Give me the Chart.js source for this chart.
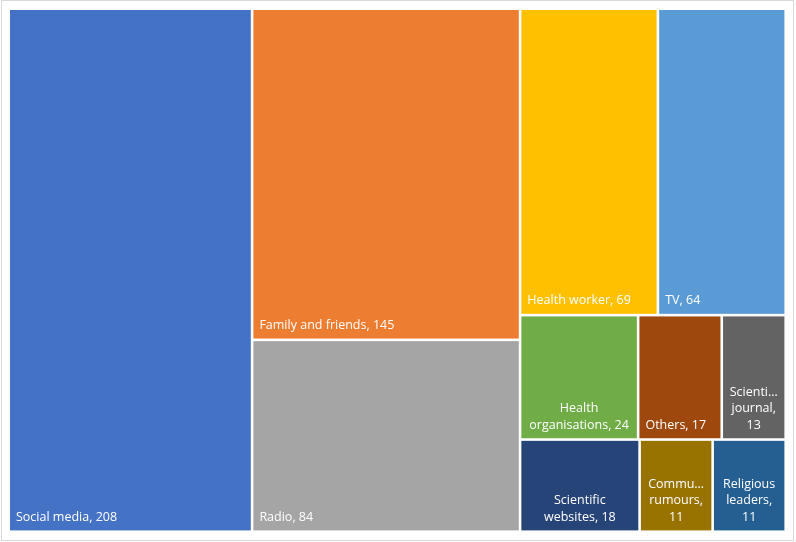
<!DOCTYPE html>
<html>
<head>
<meta charset="utf-8">
<script src="https://cdn.jsdelivr.net/npm/chart.js@4/dist/chart.umd.min.js"></script>
<style>
  html, body { margin: 0; padding: 0; background: #ffffff; }
  #wrap { width: 796px; height: 542px; position: relative; }
  canvas { display: block; }
</style>
</head>
<body>
<div id="wrap"><canvas id="c" width="796" height="542"></canvas></div>
<script>
// ---- Data (layout order) ----
const categories = [
  "Social media", "Family and friends", "Radio", "Health worker", "TV",
  "Health organisations", "Others", "Scientific journal",
  "Scientific websites", "Community rumours", "Religious leaders"
];
const values = [208, 145, 84, 69, 64, 24, 17, 13, 18, 11, 11];
const colors = [
  "#4472C4", "#ED7D31", "#A5A5A5", "#FFC000", "#5B9BD5",
  "#70AD47", "#9E480E", "#636363", "#264478", "#997300", "#255E91"
];

// ---- Treemap layout (strips; columns first, rows once region becomes tall) ----
function treemapLayout(vals, W, H) {
  const total = vals.reduce((a, b) => a + b, 0);
  const A = (W * H) / total;
  let rect = { x: 0, y: 0, w: W, h: H };
  let rowsMode = false;
  const out = [];
  let i = 0;
  const n = vals.length;
  function worst(idx, horizontal) {
    const sum = idx.reduce((s, k) => s + vals[k], 0);
    const side = horizontal ? rect.w : rect.h;
    const t = sum * A / side;
    let m = 0;
    idx.forEach(k => {
      const len = vals[k] * A / t;
      const ratio = horizontal ? len / t : t / len; // width / height
      m = Math.max(m, Math.abs(ratio - 1));
    });
    return m;
  }
  while (i < n) {
    if (!rowsMode && rect.h > rect.w) rowsMode = true;
    const horizontal = rowsMode;
    const row = [i];
    let best = worst(row, horizontal);
    let j = i + 1;
    while (j < n) {
      const cand = worst(row.concat([j]), horizontal);
      if (cand <= best) { row.push(j); best = cand; j++; } else break;
    }
    const sum = row.reduce((s, k) => s + vals[k], 0);
    if (horizontal) {
      const t = sum * A / rect.w;
      let cx = rect.x;
      row.forEach(k => {
        const len = vals[k] * A / t;
        out[k] = { x0: cx, y0: rect.y, x1: cx + len, y1: rect.y + t };
        cx += len;
      });
      rect = { x: rect.x, y: rect.y + t, w: rect.w, h: rect.h - t };
    } else {
      const t = sum * A / rect.h;
      let cy = rect.y;
      row.forEach(k => {
        const len = vals[k] * A / t;
        out[k] = { x0: rect.x, y0: cy, x1: rect.x + t, y1: cy + len };
        cy += len;
      });
      rect = { x: rect.x + t, y: rect.y, w: rect.w - t, h: rect.h };
    }
    i = j;
  }
  return out;
}

const FONT = '12.5px "Open Sans", "Noto Sans", sans-serif';
const PAD_X = 6, BOTTOM_PAD = 9.5, LINE_H = 16.5, GAP = 2.6;

function fitWord(ctx, word, maxW) {
  if (ctx.measureText(word).width <= maxW) return word;
  let s = word;
  while (s.length > 1 && ctx.measureText(s + "\u2026").width > maxW) s = s.slice(0, -1);
  return s + "\u2026";
}

function wrapLabel(ctx, text, maxW) {
  if (ctx.measureText(text).width <= maxW) return { lines: [text], single: true };
  const words = text.split(" ");
  const lines = [];
  let cur = "";
  words.forEach(w => {
    const test = cur ? cur + " " + w : w;
    if (ctx.measureText(test).width <= maxW || !cur) cur = test;
    else { lines.push(cur); cur = w; }
  });
  if (cur) lines.push(cur);
  return { lines: lines.map(l => fitWord(ctx, l, maxW)), single: false };
}

const treemapPlugin = {
  id: "treemapCells",
  beforeDraw(chart) {
    const ctx = chart.ctx;
    ctx.save();
    ctx.strokeStyle = "#D9D9D9";
    ctx.lineWidth = 1;
    ctx.strokeRect(1.5, 0.5, 792, 540);
    ctx.restore();
  },
  afterDatasetsDraw(chart) {
    const ctx = chart.ctx;
    const xs = chart.scales.x, ys = chart.scales.y;
    const area = chart.chartArea;
    const aspect = (area.right - area.left) / (area.bottom - area.top);
    const cells = treemapLayout(values, aspect, 1);
    ctx.save();
    cells.forEach((c, k) => {
      const px0 = xs.getPixelForValue(c.x0 / aspect);
      const px1 = xs.getPixelForValue(c.x1 / aspect);
      const py0 = ys.getPixelForValue(c.y0);
      const py1 = ys.getPixelForValue(c.y1);
      const L = Math.min(px0, px1), R = Math.max(px0, px1) - GAP;
      const T = Math.min(py0, py1), B = Math.max(py0, py1) - GAP;
      ctx.fillStyle = colors[k];
      ctx.fillRect(L, T, R - L, B - T);

      // label
      ctx.font = FONT;
      ctx.fillStyle = "#FFFFFF";
      ctx.textBaseline = "alphabetic";
      const label = categories[k] + ", " + values[k];
      const maxW = (R - L) - 2 * PAD_X;
      const wl = wrapLabel(ctx, label, maxW);
      const nL = wl.lines.length;
      wl.lines.forEach((line, li) => {
        const y = B - BOTTOM_PAD - (nL - 1 - li) * LINE_H;
        if (wl.single) {
          ctx.textAlign = "left";
          ctx.fillText(line, L + PAD_X, y);
        } else {
          ctx.textAlign = "center";
          ctx.fillText(line, (L + R) / 2, y);
        }
      });
    });
    ctx.restore();
  }
};

new Chart(document.getElementById("c"), {
  type: "scatter",
  data: { datasets: [] },
  options: {
    responsive: false,
    devicePixelRatio: 1,
    animation: false,
    layout: { padding: { left: 10, top: 10, right: 9, bottom: 9 } },
    plugins: { legend: { display: false }, tooltip: { enabled: false } },
    scales: {
      x: { type: "linear", min: 0, max: 1, display: false },
      y: { type: "linear", min: 0, max: 1, reverse: true, display: false }
    }
  },
  plugins: [treemapPlugin]
});
</script>
</body>
</html>
